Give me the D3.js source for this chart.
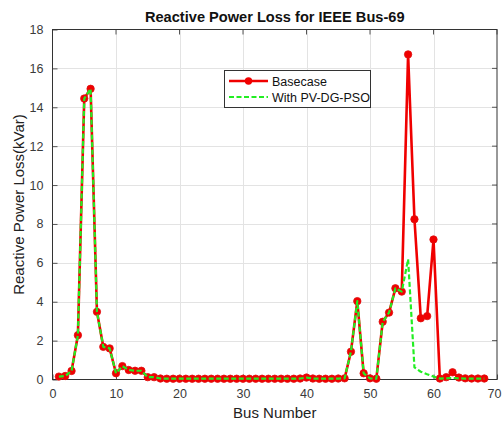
<!DOCTYPE html>
<html>
<head>
<meta charset="utf-8">
<script src="https://cdn.jsdelivr.net/npm/d3@7"></script>
<style>
  html, body { margin: 0; padding: 0; background: #fff; }
  svg { display: block; font-family: "Liberation Sans", Arial, Helvetica, sans-serif; }
</style>
</head>
<body>
<svg id="chart" width="502" height="424"></svg>
<script>
// Bus numbers 1..68 (branch losses)
const buses = d3.range(1, 69);

// Reactive power loss (kVar), base case
const basecase = [
  0.15, 0.18, 0.44, 2.28, 14.45, 14.95, 3.48, 1.68, 1.60, 0.32,
  0.69, 0.49, 0.45, 0.45, 0.12, 0.12, 0.05, 0.04, 0.04, 0.04,
  0.04, 0.04, 0.04, 0.04, 0.04, 0.04, 0.04, 0.04, 0.04, 0.04,
  0.04, 0.04, 0.04, 0.04, 0.04, 0.04, 0.04, 0.04, 0.05, 0.10,
  0.05, 0.04, 0.04, 0.04, 0.05, 0.06, 1.43, 4.03, 0.32, 0.06,
  0.04, 2.97, 3.44, 4.69, 4.52, 16.72, 8.24, 3.15, 3.26, 7.20,
  0.05, 0.12, 0.37, 0.10, 0.06, 0.05, 0.05, 0.05
];

// Reactive power loss (kVar) with PV-DG placed by PSO
const withPvDg = [
  0.15, 0.18, 0.44, 2.28, 14.45, 14.95, 3.48, 1.68, 1.60, 0.32,
  0.69, 0.49, 0.45, 0.45, 0.12, 0.12, 0.05, 0.04, 0.04, 0.04,
  0.04, 0.04, 0.04, 0.04, 0.04, 0.04, 0.04, 0.04, 0.04, 0.04,
  0.04, 0.04, 0.04, 0.04, 0.04, 0.04, 0.04, 0.04, 0.05, 0.10,
  0.05, 0.04, 0.04, 0.04, 0.05, 0.06, 1.43, 4.03, 0.32, 0.06,
  0.04, 2.97, 3.44, 4.69, 4.52, 6.18, 0.62, 0.40, 0.27, 0.15,
  0.05, 0.06, 0.08, 0.06, 0.05, 0.04, 0.04, 0.04
];

const xTicks = [0, 10, 20, 30, 40, 50, 60, 70];
const yTicks = [0, 2, 4, 6, 8, 10, 12, 14, 16, 18];
const seriesNames = ["Basecase", "With PV-DG-PSO"];

const svg = d3.select("#chart");
const m = { left: 52.5, right: 497, top: 29.5, bottom: 379.5 };

const x = d3.scaleLinear().domain([0, 70]).range([m.left, m.right]);
const y = d3.scaleLinear().domain([0, 18]).range([m.bottom, m.top]);

const textColor = "#3a3a3a";

// plot background
svg.append("rect")
  .attr("x", m.left).attr("y", m.top)
  .attr("width", m.right - m.left).attr("height", m.bottom - m.top)
  .attr("fill", "#fff");

// grid lines
const grid = svg.append("g").attr("stroke", "#e3e3e3").attr("stroke-width", 1);
grid.selectAll(".gx").data(xTicks.slice(1, -1)).join("line")
  .attr("x1", d => Math.round(x(d)) + 0.5).attr("x2", d => Math.round(x(d)) + 0.5)
  .attr("y1", m.top).attr("y2", m.bottom);
grid.selectAll(".gy").data(yTicks.slice(1, -1)).join("line")
  .attr("y1", d => Math.round(y(d)) + 0.5).attr("y2", d => Math.round(y(d)) + 0.5)
  .attr("x1", m.left).attr("x2", m.right);

// axes (ticks point inward)
const xAxis = d3.axisBottom(x).tickValues(xTicks).tickSizeInner(-5).tickSizeOuter(0).tickPadding(10);
const yAxis = d3.axisLeft(y).tickValues(yTicks).tickSizeInner(-5).tickSizeOuter(0).tickPadding(9);

const gx = svg.append("g").attr("transform", `translate(0,${m.bottom})`).call(xAxis);
const gy = svg.append("g").attr("transform", `translate(${m.left},0)`).call(yAxis);
[gx, gy].forEach(g => {
  g.select(".domain").remove();
  g.selectAll(".tick line").attr("stroke", "#555");
  g.selectAll(".tick text").attr("fill", textColor)
    .style("font-size", "12.5px").style("font-family", "'Liberation Sans', Arial, sans-serif");
});
// keep the last x label inside the canvas
gx.selectAll(".tick text").filter(d => d === 70)
  .attr("text-anchor", "end").attr("x", 501 - x(70));

// top/right ticks
const ticksTop = svg.append("g").attr("stroke", "#555");
ticksTop.selectAll("line.tt").data(xTicks).join("line")
  .attr("x1", d => x(d)).attr("x2", d => x(d))
  .attr("y1", m.top).attr("y2", m.top + 5);
ticksTop.selectAll("line.tr").data(yTicks).join("line")
  .attr("y1", d => y(d)).attr("y2", d => y(d))
  .attr("x1", m.right).attr("x2", m.right - 5);

// axes box
svg.append("rect")
  .attr("x", m.left).attr("y", m.top)
  .attr("width", m.right - m.left).attr("height", m.bottom - m.top)
  .attr("fill", "none").attr("stroke", "#333").attr("stroke-width", 1);

// series
const line = d3.line().x((d, i) => x(buses[i])).y(d => y(d));

const red = "#f00000";
const green = "#22ee22";

const plot = svg.append("g");
plot.append("path").datum(basecase)
  .attr("d", line).attr("fill", "none")
  .attr("stroke", red).attr("stroke-width", 2.6).attr("stroke-linejoin", "round");

plot.selectAll("circle.base").data(basecase).join("circle")
  .attr("class", "base")
  .attr("cx", (d, i) => x(buses[i])).attr("cy", d => y(d))
  .attr("r", 3.7).attr("fill", red).attr("stroke", "#e01010").attr("stroke-width", 0.8);

plot.append("path").datum(withPvDg)
  .attr("d", line).attr("fill", "none")
  .attr("stroke", green).attr("stroke-width", 2.2)
  .attr("stroke-dasharray", "5,2.5").attr("stroke-linejoin", "round");

// legend
const lg = svg.append("g");
lg.append("rect").attr("x", 224.5).attr("y", 70.5).attr("width", 146).attr("height", 37)
  .attr("fill", "#fff").attr("stroke", "#333").attr("stroke-width", 1);
lg.append("line").attr("x1", 229).attr("x2", 268).attr("y1", 81).attr("y2", 81)
  .attr("stroke", red).attr("stroke-width", 2.6);
lg.append("circle").attr("cx", 248.5).attr("cy", 81).attr("r", 3.7).attr("fill", red);
lg.append("line").attr("x1", 229).attr("x2", 268).attr("y1", 97).attr("y2", 97)
  .attr("stroke", green).attr("stroke-width", 2.2).attr("stroke-dasharray", "5,2.5");
lg.selectAll("text").data(seriesNames).join("text")
  .attr("x", 272).attr("y", (d, i) => 85.5 + i * 16)
  .attr("fill", "#111").style("font-size", "12.5px")
  .text(d => d);

// title
svg.append("text")
  .attr("x", (m.left + m.right) / 2).attr("y", 22)
  .attr("text-anchor", "middle").attr("fill", "#111")
  .style("font-size", "14.6px").style("font-weight", "bold")
  .text("Reactive Power Loss for IEEE Bus-69");

// axis titles
svg.append("text")
  .attr("x", (m.left + m.right) / 2).attr("y", 418)
  .attr("text-anchor", "middle").attr("fill", "#222")
  .style("font-size", "15px")
  .text("Bus Number");

svg.append("text")
  .attr("transform", `translate(24,${(m.top + m.bottom) / 2}) rotate(-90)`)
  .attr("text-anchor", "middle").attr("fill", "#222")
  .style("font-size", "15px")
  .text("Reactive Power Loss(kVar)");
</script>
</body>
</html>
